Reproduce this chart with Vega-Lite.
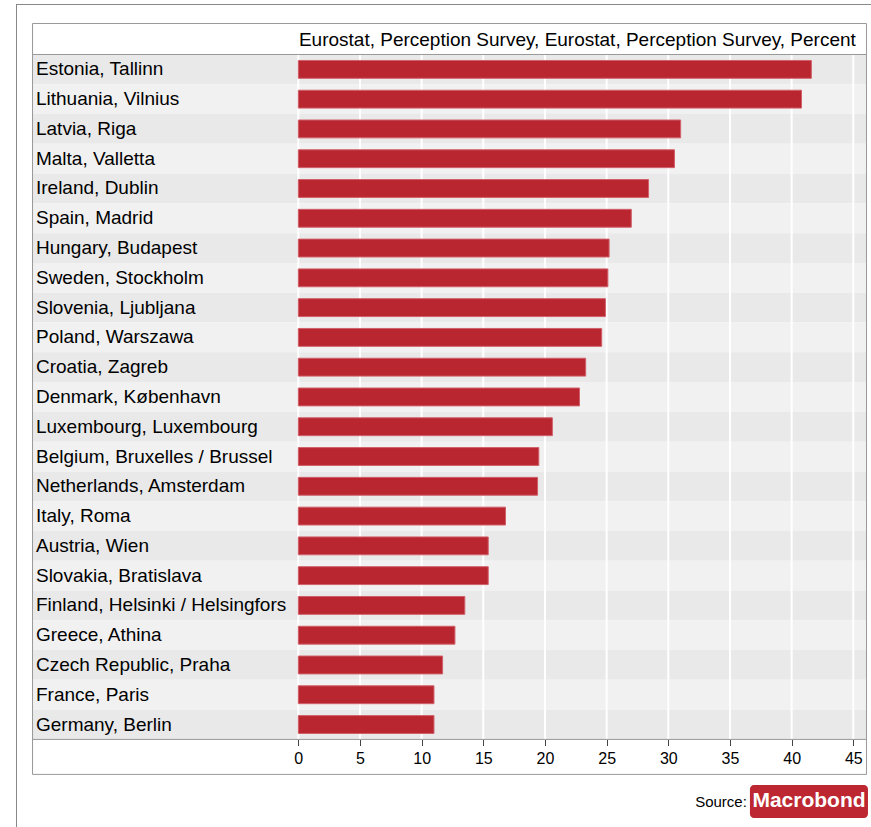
{
  "$schema": "https://vega.github.io/schema/vega-lite/v6.json",
  "autosize": {"type": "none"},
  "padding": {"left": 16, "top": 4, "right": 0, "bottom": 0},
  "width": 855,
  "height": 823,
  "background": "white",
  "config": {
    "font": "Liberation Sans",
    "view": {"stroke": null, "fill": "white"}
  },
  "datasets": {
    "cities": [
      {"city": "Estonia, Tallinn", "value": 41.6},
      {"city": "Lithuania, Vilnius", "value": 40.8},
      {"city": "Latvia, Riga", "value": 31.0},
      {"city": "Malta, Valletta", "value": 30.5},
      {"city": "Ireland, Dublin", "value": 28.4},
      {"city": "Spain, Madrid", "value": 27.0},
      {"city": "Hungary, Budapest", "value": 25.2},
      {"city": "Sweden, Stockholm", "value": 25.1},
      {"city": "Slovenia, Ljubljana", "value": 24.9},
      {"city": "Poland, Warszawa", "value": 24.6},
      {"city": "Croatia, Zagreb", "value": 23.3},
      {"city": "Denmark, København", "value": 22.8},
      {"city": "Luxembourg, Luxembourg", "value": 20.6},
      {"city": "Belgium, Bruxelles / Brussel", "value": 19.5},
      {"city": "Netherlands, Amsterdam", "value": 19.4},
      {"city": "Italy, Roma", "value": 16.8},
      {"city": "Austria, Wien", "value": 15.4},
      {"city": "Slovakia, Bratislava", "value": 15.4},
      {"city": "Finland, Helsinki / Helsingfors", "value": 13.5},
      {"city": "Greece, Athina", "value": 12.7},
      {"city": "Czech Republic, Praha", "value": 11.7},
      {"city": "France, Paris", "value": 11.0},
      {"city": "Germany, Berlin", "value": 11.0}
    ],
    "grid": [
      {"tick": 0}, {"tick": 5}, {"tick": 10}, {"tick": 15}, {"tick": 20},
      {"tick": 25}, {"tick": 30}, {"tick": 35}, {"tick": 40}, {"tick": 45}
    ],
    "one": [{"label": "Eurostat, Perception Survey, Eurostat, Perception Survey, Percent", "source": "Source:", "logo": "Macrobond"}]
  },
  "layer": [
    {
      "data": {"name": "cities"},
      "mark": {"type": "rect"},
      "encoding": {
        "y": {
          "field": "city", "type": "nominal", "sort": null, "axis": null,
          "scale": {
            "domain": ["header", "Estonia, Tallinn", "Lithuania, Vilnius", "Latvia, Riga", "Malta, Valletta", "Ireland, Dublin", "Spain, Madrid", "Hungary, Budapest", "Sweden, Stockholm", "Slovenia, Ljubljana", "Poland, Warszawa", "Croatia, Zagreb", "Denmark, København", "Luxembourg, Luxembourg", "Belgium, Bruxelles / Brussel", "Netherlands, Amsterdam", "Italy, Roma", "Austria, Wien", "Slovakia, Bratislava", "Finland, Helsinki / Helsingfors", "Greece, Athina", "Czech Republic, Praha", "France, Paris", "Germany, Berlin", "footer1", "footer2"],
            "paddingInner": 0, "paddingOuter": 0.818, "align": 0.425
          }
        },
        "x": {
          "datum": -21.55, "type": "quantitative",
          "scale": {"domain": [-22.89, 46.436], "nice": false, "zero": false},
          "axis": {
            "values": [0, 5, 10, 15, 20, 25, 30, 35, 40, 45],
            "orient": "bottom", "offset": -87.5, "domain": false, "grid": false,
            "ticks": true, "tickSize": 6, "tickColor": "#444444", "tickWidth": 1,
            "labelFont": "Liberation Sans", "labelFontSize": 16, "labelColor": "#000000",
            "labelPadding": 5, "title": null
          }
        },
        "x2": {"datum": 46.07},
        "fill": {
          "field": "city", "type": "nominal", "legend": null,
          "scale": {
            "domain": ["Estonia, Tallinn", "Lithuania, Vilnius", "Latvia, Riga", "Malta, Valletta", "Ireland, Dublin", "Spain, Madrid", "Hungary, Budapest", "Sweden, Stockholm", "Slovenia, Ljubljana", "Poland, Warszawa", "Croatia, Zagreb", "Denmark, København", "Luxembourg, Luxembourg", "Belgium, Bruxelles / Brussel", "Netherlands, Amsterdam", "Italy, Roma", "Austria, Wien", "Slovakia, Bratislava", "Finland, Helsinki / Helsingfors", "Greece, Athina", "Czech Republic, Praha", "France, Paris", "Germany, Berlin"],
            "range": ["#e9e9e9", "#f1f1f1"]
          }
        }
      }
    },
    {
      "data": {"name": "grid"},
      "mark": {"type": "rule", "color": "white", "strokeWidth": 2},
      "encoding": {
        "x": {"field": "tick", "type": "quantitative"},
        "y": {"datum": "Estonia, Tallinn", "bandPosition": 0},
        "y2": {"datum": "Germany, Berlin", "bandPosition": 1}
      }
    },
    {
      "data": {"name": "cities"},
      "mark": {"type": "bar", "fill": "#b9262f", "stroke": "#d0606a", "strokeWidth": 1, "height": {"band": 0.6}},
      "encoding": {
        "y": {"field": "city", "type": "nominal", "sort": null},
        "x": {"field": "value", "type": "quantitative"},
        "x2": {"datum": 0}
      }
    },
    {
      "data": {"name": "cities"},
      "mark": {"type": "text", "align": "left", "baseline": "middle", "fontSize": 19, "color": "#000000", "font": "Liberation Sans"},
      "encoding": {
        "y": {"field": "city", "type": "nominal", "sort": null},
        "x": {"datum": -21.27},
        "text": {"field": "city"}
      }
    },
    {
      "data": {"name": "one"},
      "mark": {"type": "rect", "fill": null, "fillOpacity": 0, "stroke": "#999999", "strokeWidth": 1},
      "encoding": {
        "x": {"datum": -21.55},
        "x2": {"datum": 46.07},
        "y": {"datum": "header", "bandPosition": -0.041},
        "y2": {"datum": "footer1", "bandPosition": 1.175}
      }
    },
    {
      "data": {"name": "one"},
      "mark": {"type": "rule", "color": "#999999", "strokeWidth": 1},
      "encoding": {
        "x": {"datum": -21.55},
        "x2": {"datum": 46.07},
        "y": {"datum": "Estonia, Tallinn", "bandPosition": 0}
      }
    },
    {
      "data": {"name": "one"},
      "mark": {"type": "rule", "color": "#999999", "strokeWidth": 1},
      "encoding": {
        "x": {"datum": -21.55},
        "x2": {"datum": 46.07},
        "y": {"datum": "Germany, Berlin", "bandPosition": 1}
      }
    },
    {
      "data": {"name": "one"},
      "mark": {"type": "rule", "color": "#888888", "strokeWidth": 1},
      "encoding": {
        "x": {"datum": -22.849}
      }
    },
    {
      "data": {"name": "one"},
      "mark": {"type": "rule", "color": "#888888", "strokeWidth": 1},
      "encoding": {
        "x": {"datum": -22.849},
        "x2": {"datum": 46.436},
        "y": {"datum": "header", "bandPosition": -0.679}
      }
    },
    {
      "data": {"name": "one"},
      "mark": {"type": "text", "align": "left", "baseline": "middle", "fontSize": 19, "color": "#000000", "font": "Liberation Sans"},
      "encoding": {
        "x": {"datum": 0.05},
        "y": {"datum": "header", "bandPosition": 0.5},
        "text": {"field": "label"}
      }
    },
    {
      "data": {"name": "one"},
      "mark": {"type": "rect", "fill": "#bd2731", "cornerRadius": 4},
      "encoding": {
        "x": {"datum": 36.62},
        "x2": {"datum": 46.19},
        "y": {"datum": "footer2", "bandPosition": 0.527},
        "y2": {"datum": "footer2", "bandPosition": 1.635}
      }
    },
    {
      "data": {"name": "one"},
      "mark": {"type": "text", "align": "center", "baseline": "middle", "fontSize": 21, "fontWeight": "bold", "color": "white", "font": "Liberation Sans"},
      "encoding": {
        "x": {"datum": 41.41},
        "y": {"datum": "footer2", "bandPosition": 1.081},
        "text": {"field": "logo"}
      }
    },
    {
      "data": {"name": "one"},
      "mark": {"type": "text", "align": "right", "baseline": "middle", "fontSize": 15, "color": "#000000", "font": "Liberation Sans"},
      "encoding": {
        "x": {"datum": 36.37},
        "y": {"datum": "footer2", "bandPosition": 1.098},
        "text": {"field": "source"}
      }
    }
  ]
}
